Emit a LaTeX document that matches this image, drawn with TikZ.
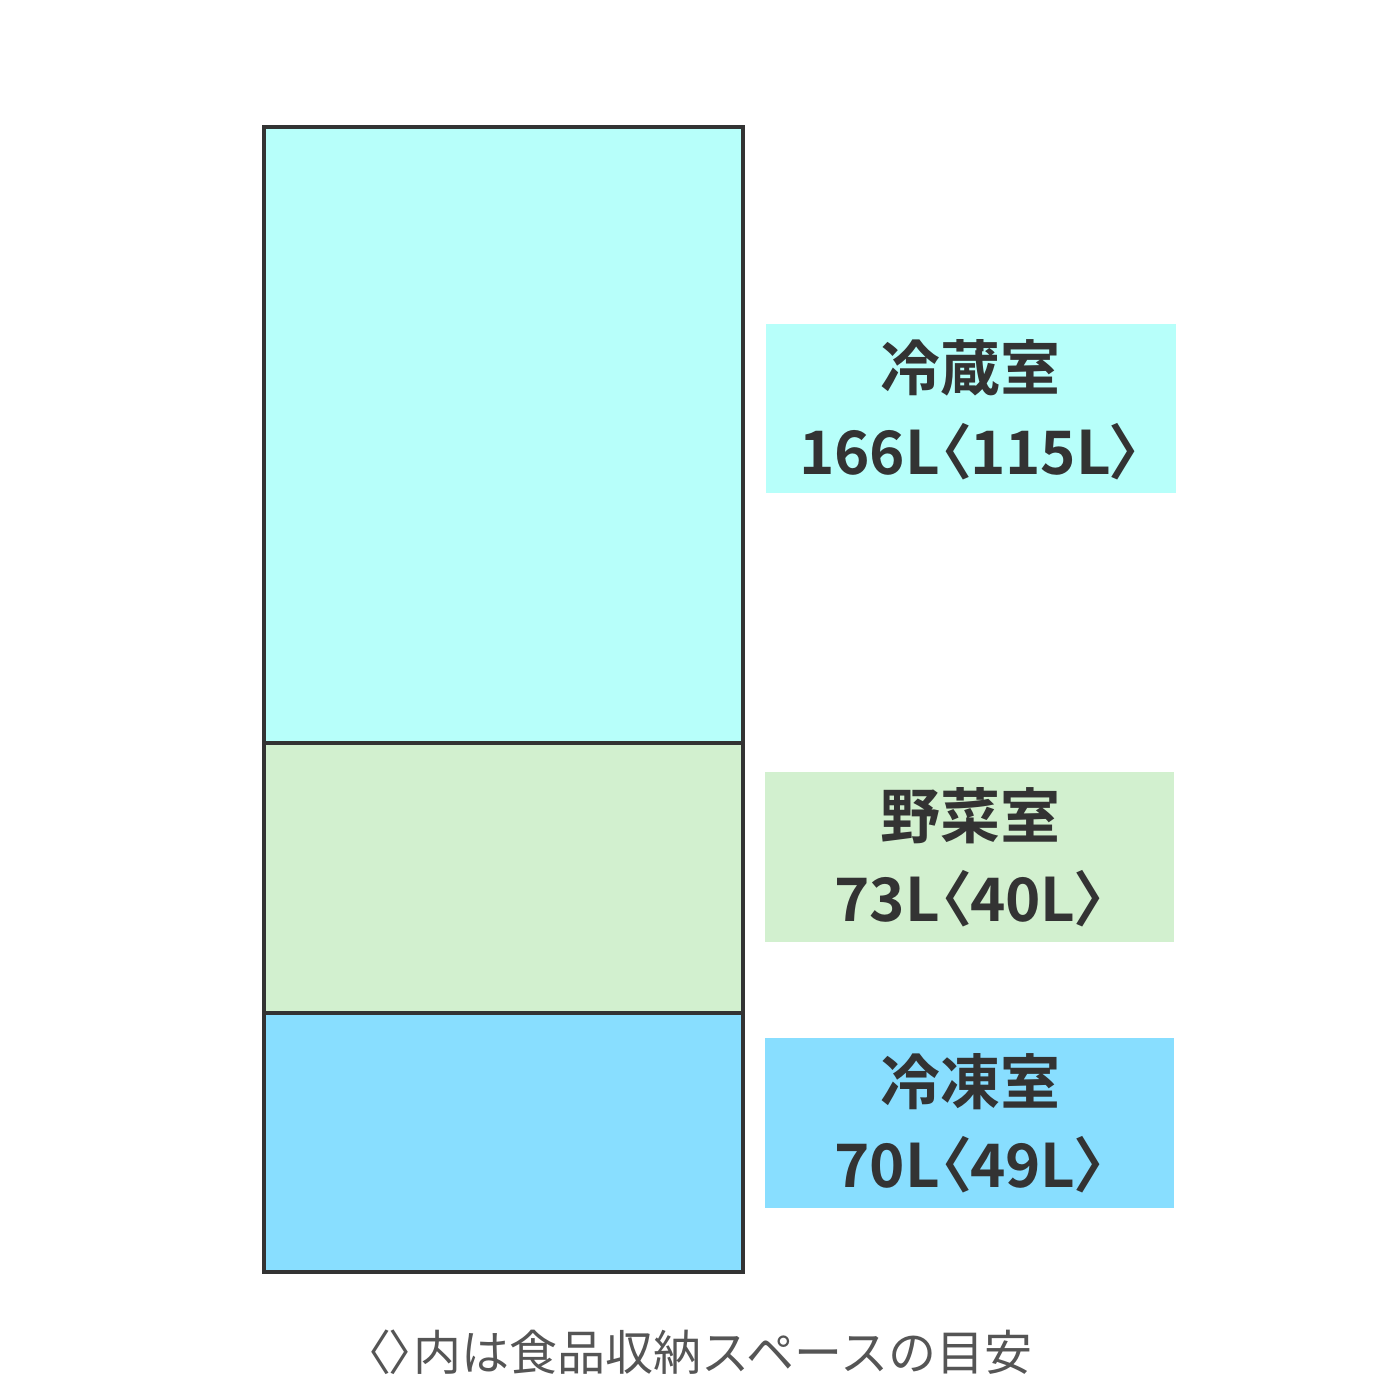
\documentclass[tikz,border=0pt]{standalone}
\usepackage{fontspec}
\newfontfamily\jpbold{Noto Sans CJK JP Bold}
\newfontfamily\jpboldp[RawFeature=+palt]{Noto Sans CJK JP Bold}
\newfontfamily\jpreg{Noto Sans CJK JP}
\newfontfamily\jpregp[RawFeature=+palt]{Noto Sans CJK JP}
\newcommand{\lbr}{{\jpboldp 〈}}
\newcommand{\rbr}{{\jpboldp 〉}}
\definecolor{fridge}{HTML}{B7FFFA}
\definecolor{veg}{HTML}{D2F0CF}
\definecolor{freeze}{HTML}{88DEFF}
\definecolor{ink}{HTML}{333333}
\definecolor{note}{HTML}{555555}
\begin{document}
\begin{tikzpicture}[x=0.5pt,y=-0.5pt,
  compartment/.style={draw=ink,line width=2pt},
  labeltext/.style={font=\jpbold\fontsize{30}{36}\selectfont,text=ink,anchor=center,inner sep=0pt}]
\useasboundingbox (0,0) rectangle (1400,1400);
\fill[white] (0,0) rectangle (1400,1400);
% compartments
\path[compartment,fill=fridge] (264,127) rectangle (743,743);
\path[compartment,fill=veg] (264,743) rectangle (743,1013);
\path[compartment,fill=freeze] (264,1013) rectangle (743,1272);
% label boxes
\fill[fridge] (766,324) rectangle (1176,493);
\fill[veg] (765,772) rectangle (1174,942);
\fill[freeze] (765,1038) rectangle (1174,1208);
\node[labeltext] (l1a) at (970,368) {冷蔵室};
\node[labeltext] (l1b) at (970,452) {166L\lbr 115L\rbr};
\node[labeltext] (l2a) at (970,816) {野菜室};
\node[labeltext] (l2b) at (970,899) {73L\lbr 40L\rbr};
\node[labeltext] (l3a) at (970,1082) {冷凍室};
\node[labeltext] (l3b) at (970,1165) {70L\lbr 49L\rbr};
\node[font=\jpreg\fontsize{24}{28}\selectfont,text=note,inner sep=0pt] (note) at (699,1352) {{\jpregp 〈〉}内は食品収納スペースの目安};
\end{tikzpicture}
\end{document}
